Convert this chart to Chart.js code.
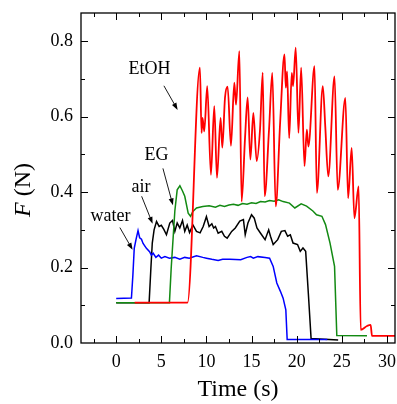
<!DOCTYPE html>
<html>
<head>
<meta charset="utf-8">
<script src="https://cdn.jsdelivr.net/npm/chart.js@4.4.0/dist/chart.umd.min.js"></script>
<style>
  html, body { margin: 0; padding: 0; background: #fff; }
</style>
</head>
<body>
<canvas id="forceChart" width="397" height="404"></canvas>
<script>
// --- Data (time in s, force in N) ---
const waterT = [0, 1.69, 1.85, 2.0, 2.2, 2.42, 2.6, 2.8, 2.98, 3.35, 3.7, 3.9, 4.1, 4.4, 4.7, 5.0, 5.4, 5.9, 6.5, 7.05, 7.6, 8.1, 8.9, 9.6, 10.0, 10.6, 11.3, 11.8, 12.6, 13.8, 14.5, 14.9, 15.2, 15.7, 16.5, 17.0, 17.4, 17.8, 18.2, 18.5, 18.8, 18.95, 23.4];
const waterF = [0.118, 0.119, 0.18, 0.251, 0.275, 0.298, 0.279, 0.275, 0.264, 0.251, 0.242, 0.233, 0.238, 0.227, 0.233, 0.225, 0.229, 0.225, 0.227, 0.222, 0.227, 0.225, 0.231, 0.227, 0.225, 0.222, 0.219, 0.222, 0.222, 0.221, 0.227, 0.229, 0.225, 0.229, 0.227, 0.225, 0.203, 0.159, 0.137, 0.119, 0.088, 0.009, 0.009];

const airT = [0, 3.65, 3.85, 4.0, 4.2, 4.47, 4.76, 5.0, 5.28, 5.57, 5.94, 6.24, 6.5, 6.76, 7.05, 7.35, 7.6, 7.87, 8.13, 8.5, 8.9, 9.3, 9.64, 10.0, 10.3, 10.6, 10.8, 11.0, 11.3, 11.7, 12.0, 12.3, 12.8, 13.2, 13.7, 14.1, 14.3, 14.6, 15.0, 15.3, 15.6, 16.0, 16.5, 16.9, 17.1, 17.4, 17.9, 18.3, 18.7, 19.0, 19.3, 19.6, 20.1, 20.4, 20.7, 21.0, 21.3, 21.6, 24.6];
const airF = [0.107, 0.107, 0.2, 0.265, 0.3, 0.322, 0.309, 0.312, 0.301, 0.287, 0.318, 0.325, 0.296, 0.318, 0.305, 0.325, 0.296, 0.313, 0.293, 0.313, 0.296, 0.292, 0.309, 0.335, 0.309, 0.316, 0.305, 0.309, 0.291, 0.296, 0.283, 0.278, 0.296, 0.305, 0.323, 0.327, 0.287, 0.318, 0.34, 0.331, 0.305, 0.291, 0.274, 0.3, 0.283, 0.261, 0.274, 0.296, 0.298, 0.283, 0.287, 0.265, 0.261, 0.243, 0.252, 0.243, 0.13, 0.012, 0.008];

const egT = [0, 5.9, 6.1, 6.5, 6.76, 7.06, 7.35, 7.6, 7.98, 8.24, 8.5, 8.9, 9.6, 10.3, 11.0, 11.5, 12.0, 12.5, 13.0, 13.5, 14.0, 14.5, 15.0, 15.5, 16.0, 16.5, 17.0, 17.5, 18.0, 18.5, 19.2, 19.8, 20.5, 21.1, 21.8, 22.2, 22.8, 23.2, 23.7, 24.2, 24.45, 27.8];
const egF = [0.107, 0.107, 0.2, 0.35, 0.406, 0.417, 0.403, 0.389, 0.344, 0.336, 0.349, 0.358, 0.362, 0.364, 0.36, 0.365, 0.362, 0.366, 0.368, 0.365, 0.37, 0.368, 0.372, 0.37, 0.375, 0.374, 0.378, 0.376, 0.38, 0.375, 0.371, 0.358, 0.369, 0.363, 0.35, 0.34, 0.336, 0.314, 0.265, 0.203, 0.02, 0.019];

const etohT = [2.05, 7.9, 9.28, 9.46, 9.57, 9.76, 10.09, 10.5, 10.87, 11.17, 11.57, 11.76, 12.06, 12.35, 12.72, 13.09, 13.28, 13.65, 13.9, 14.28, 14.57, 14.87, 15.2, 15.57, 15.94, 16.24, 16.45, 16.94, 17.3, 17.68, 18.17, 18.65, 18.8, 18.94, 19.17, 19.46, 19.6, 19.9, 20.2, 20.5, 20.87, 21.13, 21.3, 21.98, 22.24, 22.9, 23.17, 23.5, 24.2, 24.55, 25.4, 25.7, 26.1, 26.4, 26.87, 27.1, 27.8, 28.2, 28.35, 30.9];
const etohF = [0.107, 0.107, 0.73, 0.557, 0.597, 0.561, 0.681, 0.446, 0.628, 0.438, 0.597, 0.518, 0.651, 0.68, 0.523, 0.69, 0.632, 0.774, 0.375, 0.544, 0.651, 0.486, 0.61, 0.482, 0.566, 0.717, 0.389, 0.566, 0.716, 0.362, 0.584, 0.765, 0.677, 0.72, 0.543, 0.716, 0.681, 0.783, 0.557, 0.73, 0.469, 0.566, 0.521, 0.734, 0.398, 0.681, 0.575, 0.442, 0.707, 0.406, 0.65, 0.384, 0.517, 0.331, 0.415, 0.035, 0.045, 0.048, 0.019, 0.019];

const xTicks = [0, 5, 10, 15, 20, 25, 30];
const yTicks = [0.0, 0.2, 0.4, 0.6, 0.8];

const seriesNames = ['EtOH', 'EG', 'water', 'air'];

const toPoints = (t, f) => t.map((v, i) => ({ x: v, y: f[i] }));

const serif = "'Liberation Serif', 'Times New Roman', serif";

// wanted plot box inside the 397x404 canvas
const box = { left: 81, top: 13, right: 395, bottom: 343 };

// scales must not push the plot box around for label overflow
const noOverflow = scale => {
    scale.paddingTop = 0; scale.paddingBottom = 0;
    scale.paddingLeft = 0; scale.paddingRight = 0;
};

// --- Frame, inward ticks, axis titles and arrow labels ---
const framePlugin = {
    id: 'framePlugin',
    afterDraw(chart) {
        const ctx = chart.ctx;
        const a = chart.chartArea;
        const xs = chart.scales.x;
        const ys = chart.scales.y;
        ctx.save();
        ctx.strokeStyle = '#000';
        ctx.lineWidth = 1.3;
        ctx.strokeRect(a.left, a.top, a.right - a.left, a.bottom - a.top);

        ctx.lineWidth = 1;
        ctx.beginPath();
        // x ticks, major every 5 and minor every 2.5
        for (let v = -2.5; v <= xs.max; v += 2.5) {
            const p = Math.round(xs.getPixelForValue(v)) + 0.5;
            const len = (Math.abs(v % 5) < 1e-6) ? 7 : 4;
            ctx.moveTo(p, a.bottom); ctx.lineTo(p, a.bottom - len);
            ctx.moveTo(p, a.top); ctx.lineTo(p, a.top + len);
        }
        // y ticks, major every 0.2 and minor every 0.1
        for (let k = 1; k * 0.1 <= ys.max; k++) {
            const p = Math.round(ys.getPixelForValue(k * 0.1)) + 0.5;
            const len = (k % 2 === 0) ? 7 : 4;
            ctx.moveTo(a.left, p); ctx.lineTo(a.left + len, p);
            ctx.moveTo(a.right, p); ctx.lineTo(a.right - len, p);
        }
        ctx.stroke();

        // axis titles
        ctx.fillStyle = '#000';
        ctx.textBaseline = 'middle';
        ctx.font = '24px ' + serif;
        ctx.textAlign = 'center';
        ctx.fillText('Time (s)', (a.left + a.right) / 2, 390);

        ctx.save();
        ctx.translate(24, 190);
        ctx.rotate(-Math.PI / 2);
        ctx.font = 'italic 24px ' + serif;
        const fW = ctx.measureText('F').width;
        ctx.font = '24px ' + serif;
        const restW = ctx.measureText(' (N)').width;
        const start = -(fW + restW) / 2;
        ctx.textAlign = 'left';
        ctx.font = 'italic 24px ' + serif;
        ctx.fillText('F', start, 0);
        ctx.font = '24px ' + serif;
        ctx.fillText(' (N)', start + fW, 0);
        ctx.restore();

        // series labels with arrows (data coordinates)
        const notes = [
            { name: seriesNames[0], tx: 3.68, ty: 0.725, x0: 5.29, y0: 0.682, x1: 6.81, y1: 0.618 },
            { name: seriesNames[1], tx: 4.46, ty: 0.498, x0: 5.18, y0: 0.463, x1: 6.29, y1: 0.365 },
            { name: seriesNames[3], tx: 2.74, ty: 0.412, x0: 2.82, y0: 0.389, x1: 4.04, y1: 0.316 },
            { name: seriesNames[2], tx: -0.64, ty: 0.336, x0: 0.41, y0: 0.306, x1: 1.82, y1: 0.247 }
        ];
        ctx.font = '18px ' + serif;
        ctx.textAlign = 'center';
        notes.forEach(n => {
            ctx.fillText(n.name, xs.getPixelForValue(n.tx), ys.getPixelForValue(n.ty));
            const px0 = xs.getPixelForValue(n.x0), py0 = ys.getPixelForValue(n.y0);
            const px1 = xs.getPixelForValue(n.x1), py1 = ys.getPixelForValue(n.y1);
            const ang = Math.atan2(py1 - py0, px1 - px0);
            ctx.beginPath();
            ctx.lineWidth = 0.9;
            ctx.moveTo(px0, py0);
            ctx.lineTo(px1 - 4 * Math.cos(ang), py1 - 4 * Math.sin(ang));
            ctx.stroke();
            ctx.beginPath();
            ctx.moveTo(px1, py1);
            ctx.lineTo(px1 - 7 * Math.cos(ang) + 2.5 * Math.sin(ang), py1 - 7 * Math.sin(ang) - 2.5 * Math.cos(ang));
            ctx.lineTo(px1 - 7 * Math.cos(ang) - 2.5 * Math.sin(ang), py1 - 7 * Math.sin(ang) + 2.5 * Math.cos(ang));
            ctx.closePath();
            ctx.fill();
        });
        ctx.restore();
    }
};

const ctx = document.getElementById('forceChart');
const chart = new Chart(ctx.getContext('2d'), {
    type: 'line',
    data: {
        datasets: [
            { label: seriesNames[0], data: toPoints(etohT, etohF), borderColor: '#ff0000', borderWidth: 1.8, cubicInterpolationMode: 'monotone' },
            { label: seriesNames[1], data: toPoints(egT, egF), borderColor: '#138a13' },
            { label: seriesNames[2], data: toPoints(waterT, waterF), borderColor: '#0000ff' },
            { label: seriesNames[3], data: toPoints(airT, airF), borderColor: '#000000' }
        ]
    },
    options: {
        responsive: false,
        animation: false,
        events: [],
        datasets: {
            line: { borderWidth: 1.5, pointRadius: 0, fill: false, tension: 0 }
        },
        layout: { padding: { top: box.top, right: 397 - box.right, left: 0, bottom: 0 } },
        plugins: {
            legend: { display: false },
            tooltip: { enabled: false }
        },
        scales: {
            x: {
                type: 'linear',
                min: -3.9,
                max: 30.9,
                grid: { display: false, drawTicks: false },
                border: { display: false },
                afterBuildTicks: scale => { scale.ticks = xTicks.map(v => ({ value: v })); },
                afterFit: scale => { scale.height = 404 - box.bottom; noOverflow(scale); },
                ticks: {
                    color: '#000',
                    padding: 8,
                    maxRotation: 0,
                    font: { family: serif, size: 18 },
                    callback: v => String(v)
                }
            },
            y: {
                type: 'linear',
                min: 0,
                max: 0.875,
                grid: { display: false, drawTicks: false },
                border: { display: false },
                afterBuildTicks: scale => { scale.ticks = yTicks.map(v => ({ value: v })); },
                afterFit: scale => { scale.width = box.left; noOverflow(scale); },
                ticks: {
                    color: '#000',
                    padding: 8,
                    font: { family: serif, size: 18 },
                    callback: v => Number(v).toFixed(1)
                }
            }
        }
    },
    plugins: [framePlugin]
});
</script>
</body>
</html>
